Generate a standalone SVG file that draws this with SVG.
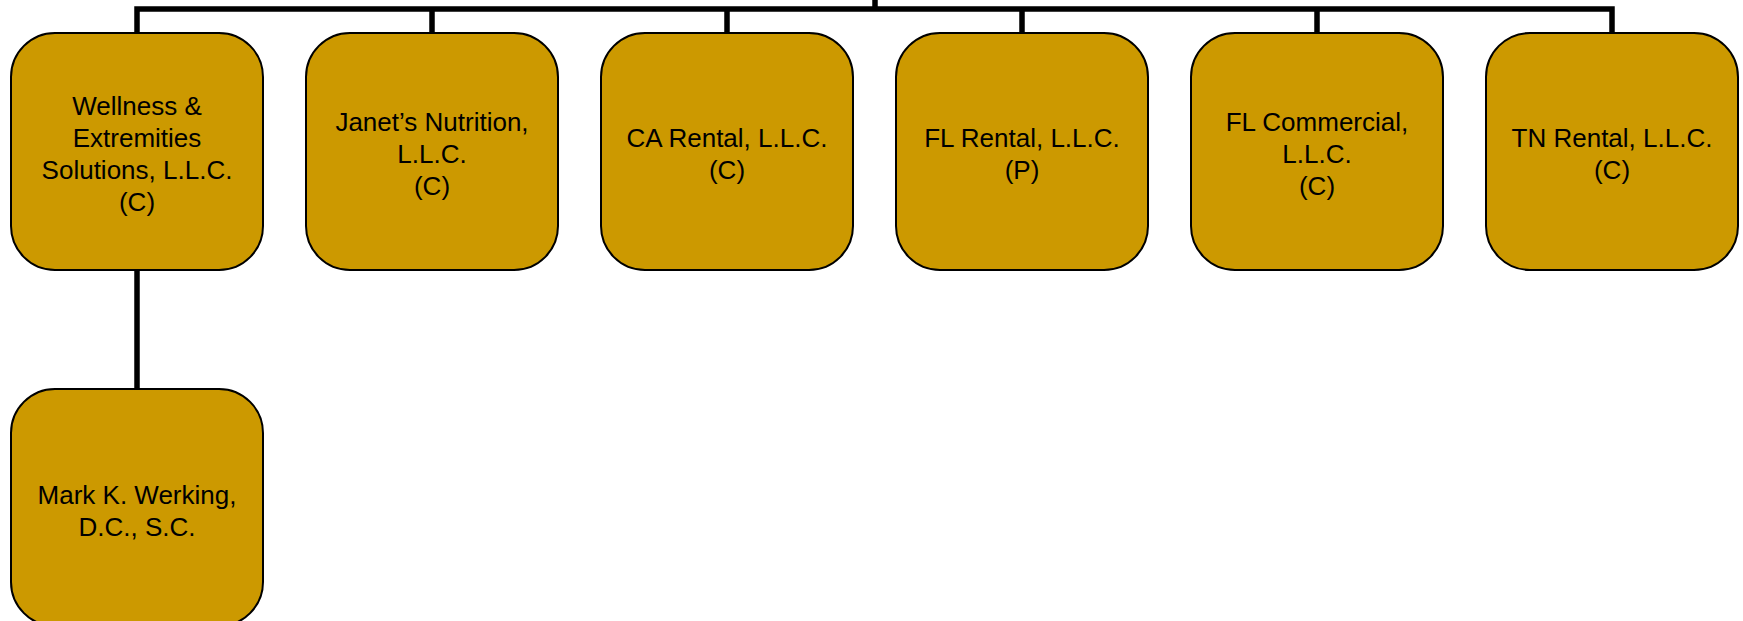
<svg xmlns="http://www.w3.org/2000/svg" width="1743" height="621" viewBox="0 0 1743 621">
<style>
.box{fill:#CC9900;stroke:#000;stroke-width:2}
.t{font-family:"Liberation Sans",Arial,sans-serif;font-size:26px;fill:#000;text-anchor:middle}
.c{fill:none;stroke:#000;stroke-width:5.5}
</style>
<rect width="1743" height="621" fill="#fff"/>
<g id="connectors">
<path class="c" d="M875,0 V9"/>
<path class="c" d="M137,33 V9 H1612 V33"/>
<path class="c" d="M432,9 V33 M727,9 V33 M1022,9 V33 M1317,9 V33"/>
<path class="c" d="M137,270 V389"/>
</g>
<g id="n1"><rect class="box" x="11" y="33" width="252" height="237" rx="44"/>
<text class="t" x="137" y="115">Wellness &amp;</text><text class="t" x="137" y="147">Extremities</text><text class="t" x="137" y="179">Solutions, L.L.C.</text><text class="t" x="137" y="211">(C)</text></g>
<g id="n2"><rect class="box" x="306" y="33" width="252" height="237" rx="44"/>
<text class="t" x="432" y="131">Janet’s Nutrition,</text><text class="t" x="432" y="163">L.L.C.</text><text class="t" x="432" y="195">(C)</text></g>
<g id="n3"><rect class="box" x="601" y="33" width="252" height="237" rx="44"/>
<text class="t" x="727" y="147">CA Rental, L.L.C.</text><text class="t" x="727" y="179">(C)</text></g>
<g id="n4"><rect class="box" x="896" y="33" width="252" height="237" rx="44"/>
<text class="t" x="1022" y="147">FL Rental, L.L.C.</text><text class="t" x="1022" y="179">(P)</text></g>
<g id="n5"><rect class="box" x="1191" y="33" width="252" height="237" rx="44"/>
<text class="t" x="1317" y="131">FL Commercial,</text><text class="t" x="1317" y="163">L.L.C.</text><text class="t" x="1317" y="195">(C)</text></g>
<g id="n6"><rect class="box" x="1486" y="33" width="252" height="237" rx="44"/>
<text class="t" x="1612" y="147">TN Rental, L.L.C.</text><text class="t" x="1612" y="179">(C)</text></g>
<g id="n7"><rect class="box" x="11" y="389" width="252" height="237" rx="44"/>
<text class="t" x="137" y="504">Mark K. Werking,</text><text class="t" x="137" y="536">D.C., S.C.</text></g>
</svg>
